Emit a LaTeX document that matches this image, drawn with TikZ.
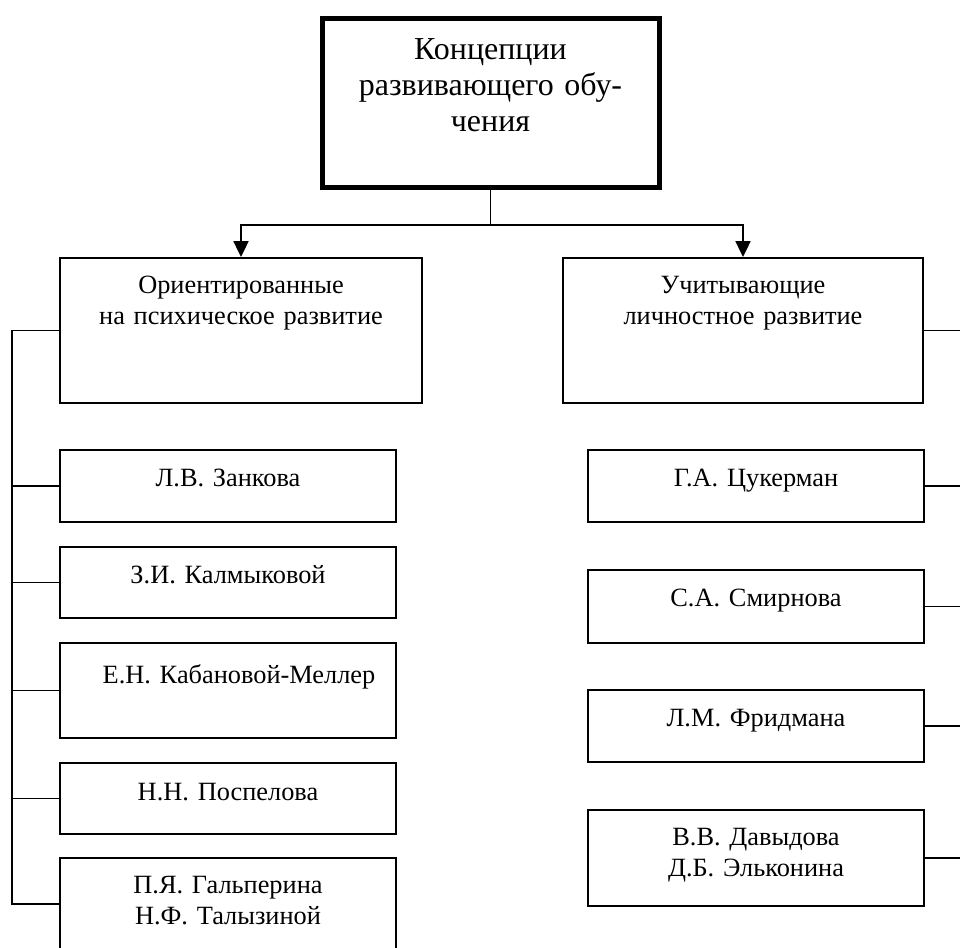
\documentclass[tikz,border=0pt]{standalone}
\usepackage{fontspec}
\setmainfont{Liberation Serif}
\usetikzlibrary{positioning,arrows.meta,calc}
\newlength{\pxu}
\setlength{\pxu}{0.02cm}
\tikzset{
  conceptbox/.style={draw, line width=2.85pt, anchor=north, inner sep=0pt, align=center,
    text width=337\pxu, font=\fontsize{18.2}{20.5}\selectfont},
  groupbox/.style={draw, line width=1.1pt, anchor=north, inner sep=0pt, align=center,
    text width=360\pxu, font=\fontsize{15}{17.1}\selectfont},
  authorbox/.style={draw, line width=1.1pt, anchor=north, inner sep=0pt, align=center,
    text width=336\pxu, font=\fontsize{15}{17.1}\selectfont},
  % text at the top, box of a given height
  boxh/.style 2 args={text height=#1\pxu, text depth=#2\pxu},
  link/.style={line width=1.1pt},
  arrowlink/.style={line width=1.1pt, -{Triangle[length=9pt,width=8.5pt]}}
}
\begin{document}
\begin{tikzpicture}[x=0.02cm, y=-0.02cm]
  \useasboundingbox (0,0) rectangle (960,947);
  % Top box
  \node[conceptbox, boxh={41}{128}] (concept) at (490.5,16)
    {Концепции\\развивающего обу-\\чения};
  % Two groups
  \node[groupbox, text width=362\pxu, boxh={36}{109}] (orient) at (241,257)
    {Ориентированные\\на психическое развитие};
  \node[groupbox, boxh={36}{109}] (ucht) at (743,257)
    {Учитывающие\\личностное развитие};
  % Left column
  \node[authorbox, boxh={37}{35}] (zank) at (228,449) {Л.В. Занкова};
  \node[authorbox, boxh={37}{34}] (kalm) at (228,546) {З.И. Калмыковой};
  \node[authorbox, boxh={41}{54}] (kab) at (228,642) {\hspace*{22\pxu}Е.Н. Кабановой-Меллер};
  \node[authorbox, boxh={38}{33}] (posp) at (228,762) {Н.Н. Поспелова};
  \node[authorbox, boxh={36}{56}] (galp) at (228,857) {П.Я. Гальперина\\Н.Ф. Талызиной};
  % Right column
  \node[authorbox, boxh={37}{35}] (tsuk) at (756,449) {Г.А. Цукерман};
  \node[authorbox, boxh={37}{36}] (smir) at (756,569) {С.А. Смирнова};
  \node[authorbox, boxh={37}{35}] (frid) at (756,689) {Л.М. Фридмана};
  \node[authorbox, boxh={36}{60}] (davyd) at (756,809) {В.В. Давыдова\\Д.Б. Эльконина};
  % Connectors
  \coordinate (fork) at ($(concept.south)+(0,35)$);
  \coordinate (ltrunk) at (12,0);
  \coordinate (redge) at (962,0);
  \draw[link] (concept.south) -- (fork);
  \draw[arrowlink] (fork) -| (orient.north);
  \draw[arrowlink] (fork) -| (ucht.north);
  \draw[link] (orient.west) -| (ltrunk |- galp.west) -- (galp.west);
  \foreach \n in {zank,kalm,kab,posp}
    \draw[link] (\n.west) -- (\n.west -| ltrunk);
  \foreach \n in {ucht,tsuk,smir,frid,davyd}
    \draw[link] (\n.east) -- (\n.east -| redge);
\end{tikzpicture}
\end{document}
